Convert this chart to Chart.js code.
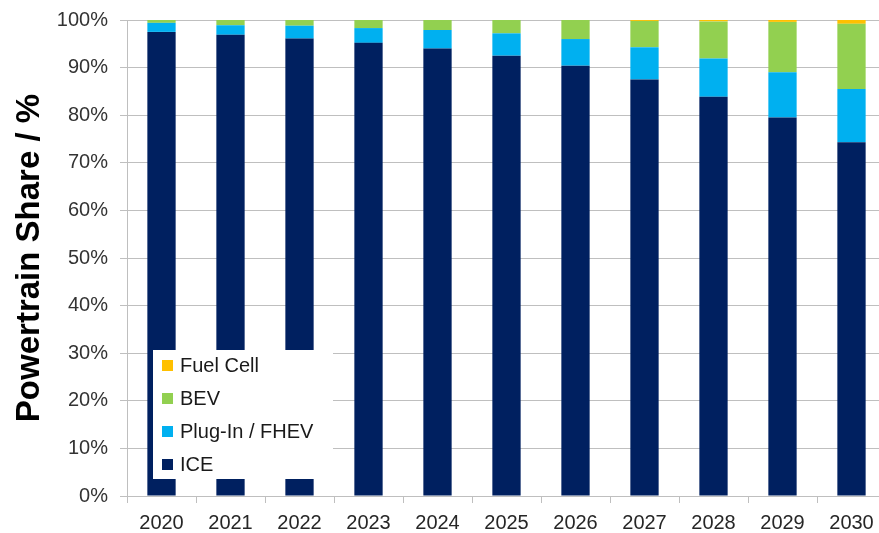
<!DOCTYPE html>
<html>
<head>
<meta charset="utf-8">
<script src="https://cdn.jsdelivr.net/npm/chart.js@4.4.0/dist/chart.umd.min.js"></script>
<style>
  html, body { margin: 0; padding: 0; background: #fff; overflow: hidden; }
  #chart { display: block; }
</style>
</head>
<body>
<canvas id="chart" width="886" height="533"></canvas>
<script>
// chart data
const years = ['2020', '2021', '2022', '2023', '2024', '2025', '2026', '2027', '2028', '2029', '2030'];
const ice = [97.5, 96.9, 96.1, 95.2, 94.0, 92.5, 90.4, 87.5, 83.9, 79.5, 74.3];
const plugIn = [1.9, 2.0, 2.7, 3.1, 3.9, 4.7, 5.6, 6.8, 8.0, 9.5, 11.2];
const bev = [0.6, 1.1, 1.2, 1.7, 2.1, 2.8, 4.0, 5.5, 7.8, 10.6, 13.7];
const fuelCell = [0, 0, 0, 0, 0, 0, 0, 0.2, 0.3, 0.4, 0.8];

const FONT = '"Liberation Sans", Arial, sans-serif';
const GRID = '#bfbfbf';

// legend box sitting inside the plot, items listed top-down in reverse stack order
const insideLegend = {
    id: 'insideLegend',
    afterDraw(chart) {
        const ctx = chart.ctx;
        const area = chart.chartArea;
        const x0 = area.left + 26;
        const y0 = area.top + 330;
        ctx.save();
        ctx.fillStyle = '#ffffff';
        ctx.fillRect(x0, y0, 180, 129);
        ctx.font = '20px ' + FONT;
        ctx.textBaseline = 'middle';
        const sets = chart.data.datasets.slice().reverse();
        sets.forEach((ds, i) => {
            const cy = y0 + 15 + i * 33;
            ctx.fillStyle = ds.backgroundColor;
            ctx.fillRect(x0 + 9, cy - 5, 11, 11);
            ctx.fillStyle = '#1a1a1a';
            ctx.fillText(ds.label, x0 + 27, cy + 1);
        });
        ctx.restore();
    }
};

new Chart(document.getElementById('chart'), {
    type: 'bar',
    data: {
        labels: years,
        datasets: [
            { label: 'ICE', data: ice, backgroundColor: '#002060' },
            { label: 'Plug-In / FHEV', data: plugIn, backgroundColor: '#00b0f0' },
            { label: 'BEV', data: bev, backgroundColor: '#92d050' },
            { label: 'Fuel Cell', data: fuelCell, backgroundColor: '#ffc000' }
        ]
    },
    options: {
        responsive: false,
        animation: false,
        devicePixelRatio: 1,
        layout: { padding: { top: 20, left: 0, right: 0, bottom: 0 } },
        datasets: {
            bar: { categoryPercentage: 1, barPercentage: 0.41, borderWidth: 0 }
        },
        plugins: {
            legend: { display: false },
            tooltip: { enabled: false }
        },
        scales: {
            x: {
                stacked: true,
                grid: { drawOnChartArea: false, drawTicks: true, tickLength: 7, color: GRID },
                border: { color: GRID },
                ticks: { color: '#262626', font: { family: FONT, size: 20 }, padding: 8, maxRotation: 0 },
                afterFit: s => { s.height = 37; s.paddingLeft = 0; s.paddingRight = 0; }
            },
            y: {
                stacked: true,
                min: 0,
                max: 100,
                grid: { color: GRID, tickLength: 7 },
                border: { color: GRID },
                ticks: {
                    stepSize: 10,
                    color: '#333333',
                    padding: 12,
                    font: { family: FONT, size: 20 },
                    callback: v => v + '%'
                },
                title: {
                    display: true,
                    text: 'Powertrain Share / %',
                    color: '#000000',
                    font: { family: FONT, size: 33, weight: 'bold' },
                    padding: { top: 10, bottom: 0 }
                },
                afterFit: s => { s.width = 127; s.paddingTop = 0; s.paddingBottom = 0; }
            }
        }
    },
    plugins: [insideLegend]
});
</script>
</body>
</html>
